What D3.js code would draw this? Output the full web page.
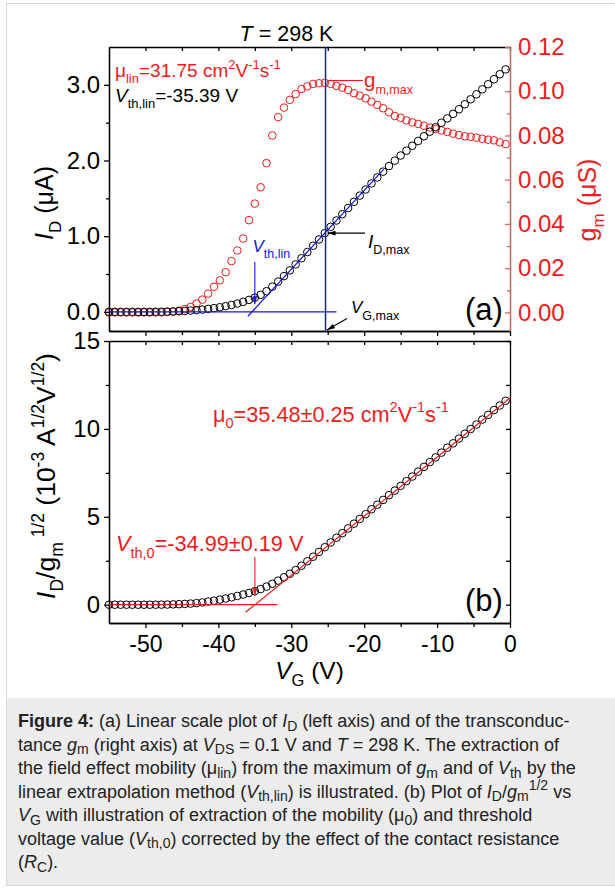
<!DOCTYPE html>
<html>
<head>
<meta charset="utf-8">
<script src="https://d3js.org/d3.v7.min.js"></script>
<style>
  body { margin: 0; background: #fff; }
  text { font-family: "Liberation Sans", Arial, sans-serif; }
</style>
</head>
<body>
<div id="my_dataviz"></div>
<script>

// gate voltage sweep (V)
var vg = [-55, -54.2, -53.4, -52.6, -51.8, -51, -50.2, -49.4, -48.6, -47.8,
  -47, -46.2, -45.4, -44.6, -43.8, -43, -42.2, -41.4, -40.6, -39.8,
  -39, -38.2, -37.4, -36.6, -35.8, -35, -34.2, -33.4, -32.6, -31.8,
  -31, -30.2, -29.4, -28.6, -27.8, -27, -26.2, -25.4, -24.6, -23.8,
  -23, -22.2, -21.4, -20.6, -19.8, -19, -18.2, -17.4, -16.6, -15.8,
  -15, -14.2, -13.4, -12.6, -11.8, -11, -10.2, -9.4, -8.6, -7.8,
  -7, -6.2, -5.4, -4.6, -3.8, -3, -2.2, -1.4, -0.6];

// drain current I_D (uA) - panel (a), left axis
var idCurrent = [0, 0, 0, 0, 0, 0, 0, 0, 0.001, 0.001,
  0.003, 0.005, 0.008, 0.012, 0.017, 0.023, 0.030, 0.039, 0.049, 0.061,
  0.075, 0.091, 0.110, 0.132, 0.158, 0.188, 0.225, 0.273, 0.333, 0.400,
  0.472, 0.548, 0.627, 0.708, 0.790, 0.874, 0.957, 1.040, 1.124, 1.207,
  1.290, 1.372, 1.454, 1.536, 1.617, 1.697, 1.776, 1.853, 1.927, 1.998,
  2.066, 2.130, 2.195, 2.258, 2.320, 2.381, 2.440, 2.499, 2.557, 2.617,
  2.677, 2.743, 2.809, 2.875, 2.941, 3.008, 3.074, 3.140, 3.204];

// transconductance g_m (uS) - panel (a), right axis
var gmValues = [0, 0, 0, 0, 0, 0, 0, 0, 0, 0,
  0.0002, 0.0004, 0.0008, 0.0015, 0.0025, 0.0040, 0.0058, 0.0085, 0.0116, 0.0145,
  0.0182, 0.0232, 0.0280, 0.0334, 0.0417, 0.0492, 0.0566, 0.0675, 0.0800, 0.0883,
  0.0926, 0.0961, 0.0987, 0.1010, 0.1022, 0.1033, 0.1036, 0.1038, 0.1033, 0.1024,
  0.1016, 0.1006, 0.0991, 0.0980, 0.0968, 0.0953, 0.0938, 0.0923, 0.0905, 0.0888,
  0.0880, 0.0868, 0.0859, 0.0852, 0.0844, 0.0836, 0.0829, 0.0823, 0.0816, 0.0808,
  0.0802, 0.0796, 0.0794, 0.0790, 0.0785, 0.0781, 0.0778, 0.0769, 0.0761];

// I_D/g_m^1/2 (10^-3 A^1/2 V^1/2) - panel (b)
var ratio = [0, 0, 0, 0, 0, 0, 0, 0, 0.002, 0.005,
  0.01, 0.02, 0.03, 0.045, 0.065, 0.09, 0.13, 0.18, 0.23, 0.29,
  0.35, 0.42, 0.50, 0.58, 0.67, 0.77, 0.89, 1.03, 1.19, 1.37,
  1.56, 1.76, 1.97, 2.22, 2.47, 2.73, 3.00, 3.27, 3.54, 3.81,
  4.07, 4.34, 4.61, 4.88, 5.15, 5.43, 5.69, 5.96, 6.23, 6.49,
  6.76, 7.03, 7.29, 7.57, 7.84, 8.11, 8.38, 8.65, 8.93, 9.18,
  9.45, 9.72, 9.99, 10.25, 10.53, 10.80, 11.07, 11.33, 11.60];

// tick values
var xLabels = [-50, -40, -30, -20, -10, 0];
var xMinor = [-45, -35, -25, -15, -5];
var idTicks = [0, 1, 2, 3];
var idMinor = [0.5, 1.5, 2.5];
var gmTicks = [0, 0.02, 0.04, 0.06, 0.08, 0.10, 0.12];
var gmMinor = [0.01, 0.03, 0.05, 0.07, 0.09, 0.11];
var ratioTicks = [0, 5, 10, 15];
var ratioMinor = [2.5, 7.5, 12.5];

// extraction results shown on the plot
var vthLin = -35.39, linSlope = 0.1043, vgMax = -25.3, idMax = 1.04;
var vth0 = -34.99, slope0 = 0.336;

var red = "#ec1c1c", blue = "#1414e6";

var svg = d3.select("#my_dataviz")
  .append("svg")
    .attr("width", 615)
    .attr("height", 889);

svg.append("rect").attr("width", 615).attr("height", 889).attr("fill", "#fff");
svg.append("rect")
  .attr("x", 6.5).attr("y", 3.5).attr("width", 620).attr("height", 882)
  .attr("fill", "none").attr("stroke", "#d9d9d9");
svg.append("rect")
  .attr("x", 7).attr("y", 698).attr("width", 610).attr("height", 187)
  .attr("fill", "#ececec");

// arrow heads
var defs = svg.append("defs");
[["arrBlue", blue], ["arrBlack", "#000"], ["arrRed", red]].forEach(function(m) {
  defs.append("marker")
    .attr("id", m[0])
    .attr("viewBox", "0 0 10 6")
    .attr("refX", 10).attr("refY", 3)
    .attr("markerWidth", 8).attr("markerHeight", 5)
    .attr("markerUnits", "userSpaceOnUse")
    .attr("orient", "auto")
    .append("path").attr("d", "M0,0 L10,3 L0,6 z").attr("fill", m[1]);
});

// text with italics / sub / superscripts
function rich(parent, x, y, parts, size, opt) {
  opt = opt || {};
  var small = opt.small || size * 0.66;
  var t = parent.append("text")
    .attr("x", x).attr("y", y)
    .attr("fill", opt.fill || "#000")
    .attr("text-anchor", opt.anchor || "start")
    .style("font-size", size + "px");
  if (opt.transform) t.attr("transform", opt.transform);
  var cur = 0;
  parts.forEach(function(p) {
    if (typeof p === "string") p = {t: p};
    var target = p.sub ? size * (opt.subShift || 0.32) : p.sup ? -size * 0.42 : 0;
    var ts = t.append("tspan").text(p.t);
    if (target !== cur) ts.attr("dy", target - cur);
    cur = target;
    if (p.sub || p.sup) ts.style("font-size", small + "px");
    if (p.i) ts.style("font-style", "italic");
    if (p.b) ts.style("font-weight", "bold");
  });
  return t;
}

var x = d3.scaleLinear().domain([-55, 0]).range([109, 510]);
var yA = d3.scaleLinear().domain([-0.253, 3.5]).range([331, 47]);
var yG = d3.scaleLinear().domain([-0.0084, 0.12]).range([331, 47]);
var yB = d3.scaleLinear().domain([-1.04, 15]).range([623, 341]);

function styleAxis(g, color, size) {
  g.select(".domain").attr("stroke", color).attr("stroke-width", 1.3);
  g.selectAll(".tick line").attr("stroke", color).attr("stroke-width", 1.3);
  g.selectAll(".tick text").style("font-size", (size || 24) + "px");
}
function noLabel() { return ""; }

// ---------------- panel (a) ----------------
var pa = svg.append("g");

// bottom + top x axes of panel (a)
pa.append("g").attr("transform", "translate(0,331)")
  .call(d3.axisBottom(x).tickValues(xLabels).tickFormat(noLabel).tickSize(5).tickSizeOuter(0))
  .call(styleAxis, "#000");
pa.append("g").attr("transform", "translate(0,331)")
  .call(d3.axisBottom(x).tickValues(xMinor).tickFormat(noLabel).tickSize(4).tickSizeOuter(0))
  .call(styleAxis, "#000");
pa.append("g").attr("transform", "translate(0,47)")
  .call(d3.axisTop(x).tickValues(xLabels.concat(xMinor)).tickFormat(noLabel).tickSize(-4).tickSizeOuter(0))
  .call(styleAxis, "#000");

// left I_D axis
pa.append("g").attr("transform", "translate(109,0)")
  .call(d3.axisLeft(yA).tickValues(idTicks).tickFormat(d3.format(".1f")).tickSize(5).tickPadding(4).tickSizeOuter(0))
  .call(styleAxis, "#000");
pa.append("g").attr("transform", "translate(109,0)")
  .call(d3.axisLeft(yA).tickValues(idMinor).tickFormat(noLabel).tickSize(3).tickSizeOuter(0))
  .call(styleAxis, "#000");

// right g_m axis
var gmAxis = pa.append("g").attr("transform", "translate(510,0)")
  .call(d3.axisRight(yG).tickValues(gmTicks).tickFormat(d3.format(".2f")).tickSize(-5).tickPadding(8).tickSizeOuter(0))
  .call(styleAxis, "#cc6a6a");
gmAxis.selectAll(".tick text").attr("fill", red);
pa.append("g").attr("transform", "translate(510,0)")
  .call(d3.axisRight(yG).tickValues(gmMinor).tickFormat(noLabel).tickSize(-3).tickSizeOuter(0))
  .call(styleAxis, "#cc6a6a");

// g_m circles (red) then I_D circles (black)
pa.append("g").selectAll("circle")
  .data(vg)
  .enter().append("circle")
    .attr("cx", function(d) { return x(d); })
    .attr("cy", function(d, i) { return yG(gmValues[i]); })
    .attr("r", 3.8)
    .attr("fill", "none").attr("stroke", red).attr("stroke-width", 1);
pa.append("g").selectAll("circle")
  .data(vg)
  .enter().append("circle")
    .attr("cx", function(d) { return x(d); })
    .attr("cy", function(d, i) { return yA(idCurrent[i]); })
    .attr("r", 3.8)
    .attr("fill", "none").attr("stroke", "#000").attr("stroke-width", 1);

// linear extrapolation lines (blue)
var line = d3.line().x(function(d) { return x(d[0]); }).y(function(d) { return yA(d[1]); });
pa.append("path")
  .attr("d", line([[-35.95, linSlope * (-35.95 - vthLin)], [-17.3, linSlope * (-17.3 - vthLin)]]))
  .attr("stroke", blue).attr("stroke-width", 1.2).attr("fill", "none");
pa.append("path")
  .attr("d", line([[-55, 0], [-23.8, 0]]))
  .attr("stroke", blue).attr("stroke-width", 1.2).attr("fill", "none");
pa.append("line")
  .attr("x1", x(vgMax)).attr("x2", x(vgMax))
  .attr("y1", 47).attr("y2", 331)
  .attr("stroke", blue).attr("stroke-width", 1.5);

// annotations
rich(pa, 286.5, 40.5, [{t: "T", i: true}, " = 298 K"], 21.5, {anchor: "middle"});
rich(pa, 115, 76.5, ["\u03bc", {t: "lin", sub: true}, "=31.75 cm", {t: "2", sup: true}, "V",
  {t: "-1", sup: true}, "s", {t: "-1", sup: true}], 19, {fill: red, small: 13});
rich(pa, 115, 102, [{t: "V", i: true}, {t: "th,lin", sub: true}, "=-35.39 V"], 19, {small: 13});

pa.append("line")
  .attr("x1", x(vgMax) + 2).attr("x2", 363)
  .attr("y1", 80.5).attr("y2", 80.5)
  .attr("stroke", red).attr("stroke-width", 1.1);
rich(pa, 364, 87, ["g", {t: "m,max", sub: true}], 20.5, {fill: red, small: 12.5});

rich(pa, 252.5, 251.5, [{t: "V", i: true}, {t: "th,lin", sub: true}], 17, {fill: blue, small: 12.5, subShift: 0.4});
pa.append("line")
  .attr("x1", x(-35)).attr("x2", x(-35))
  .attr("y1", 262).attr("y2", yA(0.1))
  .attr("stroke", blue).attr("stroke-width", 1.1)
  .attr("marker-end", "url(#arrBlue)");

pa.append("line")
  .attr("x1", 365).attr("x2", x(vgMax) + 2)
  .attr("y1", yA(idMax)).attr("y2", yA(idMax))
  .attr("stroke", "#000").attr("stroke-width", 1.1)
  .attr("marker-end", "url(#arrBlack)");
rich(pa, 368, 248, [{t: "I", i: true}, {t: "D,max", sub: true}], 19, {small: 12.5});

pa.append("line")
  .attr("x1", 347).attr("y1", 318.5)
  .attr("x2", x(vgMax) + 1.5).attr("y2", 330)
  .attr("stroke", "#000").attr("stroke-width", 1.1)
  .attr("marker-end", "url(#arrBlack)");
rich(pa, 351, 313, [{t: "V", i: true}, {t: "G,max", sub: true}], 17, {small: 12.5, subShift: 0.42});

rich(pa, 465, 320, ["(a)"], 31);

// axis titles of panel (a)
rich(pa, 0, 0, [{t: "I", i: true}, {t: "D", sub: true}, " (\u03bcA)"], 25,
  {anchor: "middle", transform: "translate(53,203) rotate(-90)", small: 17});
rich(pa, 0, 0, ["g", {t: "m", sub: true}, " (\u03bcS)"], 25,
  {anchor: "middle", fill: red, transform: "translate(596,200) rotate(-90)", small: 17});

// ---------------- panel (b) ----------------
var pb = svg.append("g");

pb.append("g").attr("transform", "translate(0,341)")
  .call(d3.axisTop(x).tickValues(xLabels.concat(xMinor)).tickFormat(noLabel).tickSize(-4).tickSizeOuter(0))
  .call(styleAxis, "#000");
pb.append("g").attr("transform", "translate(0,623)")
  .call(d3.axisBottom(x).tickValues(xLabels).tickFormat(function(d) { return String(d); })
    .tickSize(5).tickPadding(8).tickSizeOuter(0))
  .call(styleAxis, "#000", 23);
pb.append("g").attr("transform", "translate(0,623)")
  .call(d3.axisBottom(x).tickValues(xMinor).tickFormat(noLabel).tickSize(4).tickSizeOuter(0))
  .call(styleAxis, "#000");

pb.append("g").attr("transform", "translate(109,0)")
  .call(d3.axisLeft(yB).tickValues(ratioTicks).tickFormat(d3.format("d")).tickSize(5).tickPadding(4).tickSizeOuter(0))
  .call(styleAxis, "#000");
pb.append("g").attr("transform", "translate(109,0)")
  .call(d3.axisLeft(yB).tickValues(ratioMinor).tickFormat(noLabel).tickSize(3).tickSizeOuter(0))
  .call(styleAxis, "#000");
pb.append("g").attr("transform", "translate(510,0)")
  .call(d3.axisRight(yB).tickValues(ratioTicks.concat(ratioMinor)).tickFormat(noLabel).tickSize(-4).tickSizeOuter(0))
  .call(styleAxis, "#000");

pb.append("g").selectAll("circle")
  .data(vg)
  .enter().append("circle")
    .attr("cx", function(d) { return x(d); })
    .attr("cy", function(d, i) { return yB(ratio[i]); })
    .attr("r", 3.8)
    .attr("fill", "none").attr("stroke", "#000").attr("stroke-width", 1);

var lineB = d3.line().x(function(d) { return x(d[0]); }).y(function(d) { return yB(d[1]); });
pb.append("path")
  .attr("d", lineB([[-36.25, slope0 * (-36.25 - vth0)], [0, slope0 * (0 - vth0)]]))
  .attr("stroke", red).attr("stroke-width", 1.2).attr("fill", "none");
pb.append("path")
  .attr("d", lineB([[-55, 0], [-31.9, 0]]))
  .attr("stroke", red).attr("stroke-width", 1.2).attr("fill", "none");

rich(pb, 213, 421.5, ["\u03bc", {t: "0", sub: true}, "=35.48\u00b10.25 cm", {t: "2", sup: true}, "V",
  {t: "-1", sup: true}, "s", {t: "-1", sup: true}], 21.7, {fill: red, small: 14.5});
rich(pb, 116, 551, [{t: "V", i: true}, {t: "th,0", sub: true}, "=-34.99\u00b10.19 V"], 21.7, {fill: red, small: 14.5});
pb.append("line")
  .attr("x1", x(vth0)).attr("x2", x(vth0))
  .attr("y1", 557).attr("y2", yB(0.5))
  .attr("stroke", red).attr("stroke-width", 1.1)
  .attr("marker-end", "url(#arrRed)");

rich(pb, 465, 610.5, ["(b)"], 31);

rich(pb, 0, 0, [{t: "I", i: true}, {t: "D", sub: true}, "/g", {t: "m", sub: true}, {t: "  1/2", sup: true},
  " (10", {t: "-3", sup: true}, " A", {t: "1/2", sup: true}, "V", {t: "1/2", sup: true}, ")"], 26.5,
  {anchor: "middle", transform: "translate(55,476) rotate(-90)", small: 17.5});
rich(pb, 309.5, 679, [{t: "V", i: true}, {t: "G", sub: true}, " (V)"], 24.5, {anchor: "middle", small: 16.5, subShift: 0.28});

// ---------------- caption ----------------
var cap = svg.append("g").attr("fill", "#222");
var capLines = [
  [{t: "Figure 4:", b: true}, " (a) Linear scale plot of ", {t: "I", i: true}, {t: "D", sub: true},
    " (left axis) and of the transconduc-"],
  ["tance ", {t: "g", i: true}, {t: "m", sub: true}, " (right axis) at ", {t: "V", i: true}, {t: "DS", sub: true},
    " = 0.1 V and ", {t: "T", i: true}, " = 298 K. The extraction of"],
  ["the field effect mobility (\u03bc", {t: "lin", sub: true}, ") from the maximum of ", {t: "g", i: true},
    {t: "m", sub: true}, " and of ", {t: "V", i: true}, {t: "th", sub: true}, " by the"],
  ["linear extrapolation method (", {t: "V", i: true}, {t: "th,lin", sub: true}, ") is illustrated. (b) Plot of ",
    {t: "I", i: true}, {t: "D", sub: true}, "/", {t: "g", i: true}, {t: "m", sub: true}, {t: "1/2", sup: true}, " vs"],
  [{t: "V", i: true}, {t: "G", sub: true}, " with illustration of extraction of the mobility (\u03bc",
    {t: "0", sub: true}, ") and threshold"],
  ["voltage value (", {t: "V", i: true}, {t: "th,0", sub: true}, ") corrected by the effect of the contact resistance"],
  ["(", {t: "R", i: true}, {t: "C", sub: true}, ")."]
];
capLines.forEach(function(parts, i) {
  rich(cap, 18, 727 + i * 23.5, parts, 18, {fill: "#222", small: 14, subShift: 0.2});
});

</script>
</body>
</html>
